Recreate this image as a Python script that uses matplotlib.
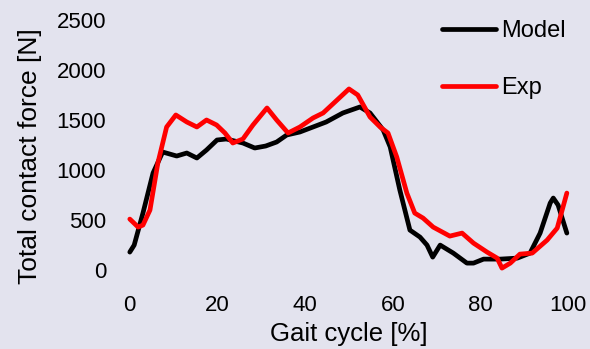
import matplotlib
matplotlib.use("Agg")
import matplotlib.pyplot as plt

# Gait cycle [%] and total contact force [N]
model_x = [0, 1, 3, 5.3, 7.5, 10.7, 13, 15.3, 17.5, 19.9, 22, 25.8, 28.5, 31, 33.5, 35.8,
           38.8, 41.8, 44.8, 48.6, 52.5, 54.8, 57.8, 59.4, 61.6, 63.9, 66.2, 67.8, 69.1,
           70.8, 73.8, 76.9, 78.4, 80.7, 84.5, 88.4, 91.3, 93.6, 95.9, 96.6, 97.7, 99.7]
model_y = [180, 250, 570, 970, 1180, 1140, 1170, 1120, 1200, 1300, 1310, 1270, 1220, 1240,
           1280, 1350, 1380, 1430, 1480, 1570, 1630, 1570, 1400, 1230, 800, 400, 330, 250,
           130, 250, 170, 70, 70, 110, 110, 120, 170, 370, 670, 720, 650, 370]

exp_x = [0, 1.9, 3, 4.6, 6.4, 8.4, 10.5, 13, 15.3, 17.5, 19.8, 21.7, 23.5, 25.8, 28.1,
         31.3, 33.5, 36.1, 38.8, 41.8, 44.1, 47.3, 50, 52, 54.8, 57.1, 58.9, 60.9, 63.2,
         65, 66.9, 69.2, 73, 75.8, 78.4, 81.5, 83.8, 84.9, 86.8, 89, 91.8, 95.2, 97.5, 99.7]
exp_y = [510, 430, 450, 600, 1070, 1430, 1550, 1480, 1430, 1500, 1450, 1370, 1270, 1310,
         1450, 1620, 1500, 1370, 1430, 1520, 1570, 1700, 1810, 1750, 1530, 1430, 1370,
         1130, 770, 570, 520, 430, 340, 370, 270, 180, 120, 20, 70, 160, 170, 300, 420, 770]

x_ticks = [0, 20, 40, 60, 80, 100]
y_ticks = [0, 500, 1000, 1500, 2000, 2500]

bg = "#e3e3ee"
plt.rcParams["font.family"] = ["Liberation Sans", "DejaVu Sans"]

fig = plt.figure(figsize=(5.9, 3.49), dpi=100, facecolor=bg)
ax = fig.add_axes([0.22, 0.226, 0.743, 0.717], facecolor=bg)

ax.plot(model_x, model_y, color="black", lw=3.4, label="Model",
        solid_capstyle="round", solid_joinstyle="round", clip_on=False)
ax.plot(exp_x, exp_y, color="#ff0000", lw=3.4, label="Exp",
        solid_capstyle="round", solid_joinstyle="round", clip_on=False)

ax.set_xlim(0, 100)
ax.set_ylim(0, 2500)
ax.set_xticks(x_ticks)
ax.set_yticks(y_ticks)
ax.tick_params(axis="both", length=0, labelsize=16)
ax.tick_params(axis="x", pad=18)
ax.tick_params(axis="y", pad=17)
for s in ax.spines.values():
    s.set_visible(False)

ax.set_xlabel("Gait cycle [%]", fontsize=18.5)
ax.set_ylabel("Total contact force [N]", fontsize=19)
ax.xaxis.set_label_coords(0.5, -0.208)
ax.yaxis.set_label_coords(-0.2, 0.455)

ax.legend(loc="upper left", bbox_to_anchor=(0.712, 1.0), frameon=False,
          fontsize=17, handlelength=2.3, handletextpad=0.2, labelspacing=1.5,
          borderpad=0, borderaxespad=0)

fig.savefig("out.png", dpi=100, facecolor=bg)
